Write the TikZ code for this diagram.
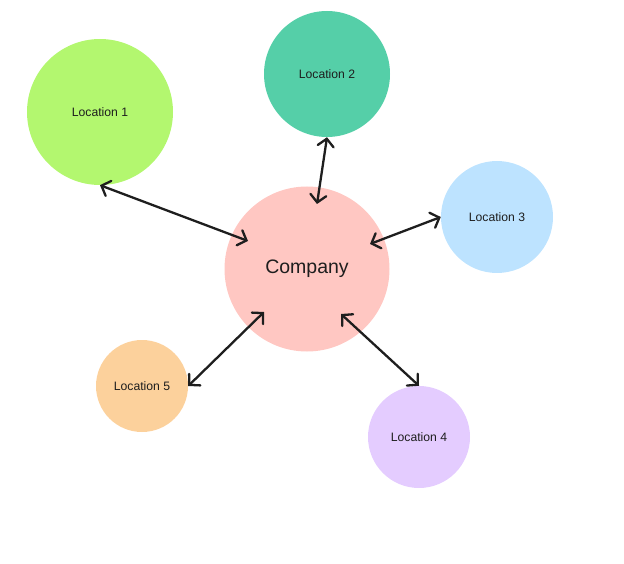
\documentclass[tikz,border=0pt]{standalone}
\usepackage{fontspec}
\setmainfont{Liberation Sans}
\usetikzlibrary{arrows.meta}

\definecolor{companyred}{HTML}{FFC7C2}
\definecolor{lime}{HTML}{B3F76F}
\definecolor{teal}{HTML}{55CFA8}
\definecolor{skyblue}{HTML}{BDE3FF}
\definecolor{lilac}{HTML}{E4CCFF}
\definecolor{peach}{HTML}{FCD19C}
\definecolor{ink}{HTML}{1E1E1E}

\begin{document}
\begin{tikzpicture}[x=1pt,y=-1pt,
    place/.style={circle,inner sep=0pt,text=ink,font=\fontsize{12.2}{14}\selectfont},
    barb/.tip={Straight Barb[length=7.5pt,width=16pt,line cap=round]},
    link/.style={barb-barb,line width=2.3pt,line cap=round,draw=ink}]
                        % \draw[help lines] (0,0) grid (624,564);
                        \useasboundingbox (0,0) rectangle (624,564);

                        \node[place,fill=companyred,minimum size=165pt,
                              font=\fontsize{19.5}{22}\selectfont] (company) at (307,269) {Company};
                        \node[place,fill=lime,minimum size=146pt]    (loc1) at (100,112) {Location 1};
                        \node[place,fill=teal,minimum size=126pt]    (loc2) at (327,74)  {Location 2};
                        \node[place,fill=skyblue,minimum size=112pt] (loc3) at (497,217) {Location 3};
                        \node[place,fill=lilac,minimum size=102pt]   (loc4) at (419,437) {Location 4};
                        \node[place,fill=peach,minimum size=92pt]    (loc5) at (142,386) {Location 5};

                        % ends inside the company circle
                        \coordinate (in1) at (248,241);
                        \coordinate (in2) at (317,204);
                        \coordinate (in3) at (370,244);
                        \coordinate (in4) at (341,314);
                        \coordinate (in5) at (264,312);

                        \draw[link] (loc1.south) -- (in1);
                        \draw[link] (loc2.south) -- (in2);
                        \draw[link] (loc3.west)  -- (in3);
                        \draw[link] (loc4.north) -- (in4);
                        \draw[link] (loc5.east)  -- (in5);
                    \end{tikzpicture}
\end{document}
